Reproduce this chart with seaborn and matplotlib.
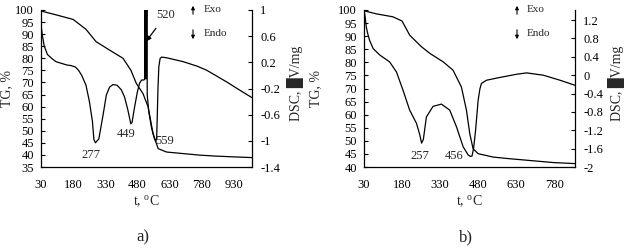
import matplotlib
matplotlib.use("Agg")
import matplotlib.pyplot as plt
import seaborn as sns
import pandas as pd
import numpy as np

sns.set_theme(style="white")
plt.rcParams['font.family'] = ['Liberation Serif', 'DejaVu Serif']
plt.rcParams['mathtext.fontset'] = 'custom'
plt.rcParams['mathtext.rm'] = 'Liberation Serif'

# ---- panel a data ----
tg_a_t = [30, 100, 180, 240, 287, 350, 413, 450, 475, 506, 530, 553, 577, 616, 700, 772, 850, 928, 1015]
tg_a_v = [99.6, 98.0, 96.1, 92.0, 86.9, 83.4, 80.0, 75.0, 69.6, 65.4, 59.9, 48.8, 42.6, 41.2, 40.5, 39.9, 39.5, 39.2, 38.9]

dsc_a_t = [31, 36, 45, 60, 80, 100, 130, 150, 170, 190, 205, 220, 240, 256, 270, 277, 284, 300, 320, 335, 350, 366, 385, 405, 420, 435, 444, 449, 455, 466, 480, 490, 500, 510, 514,
           516, 518, 520, 522, 524, 526, 533, 546, 559, 566, 570, 573, 576, 580, 586, 593, 616, 694, 760, 803, 850, 897, 960, 1015]
dsc_a_v = [0.75, 0.62, 0.45, 0.32, 0.26, 0.21, 0.18, 0.16, 0.15, 0.13, 0.08, 0.0, -0.15, -0.40, -0.70, -0.98, -1.03, -0.97, -0.60, -0.30, -0.18, -0.14, -0.15, -0.22, -0.33, -0.52, -0.66, -0.74, -0.72, -0.50, -0.25, -0.12, -0.07, -0.07, -0.06,
           1.0, -0.05, 1.0, -0.05, 1.0, -0.30, -0.55, -0.80, -0.96, -1.01, -0.95, -0.60, -0.20, 0.13, 0.26, 0.28, 0.27, 0.21, 0.14, 0.08, -0.01, -0.10, -0.23, -0.34]

# ---- panel b data ----
tg_b_t = [30, 80, 144, 180, 210, 256, 290, 342, 381, 414, 434, 447, 460, 480, 539, 600, 671, 776, 862]
tg_b_v = [99.7, 98.5, 97.4, 95.8, 90.4, 86.0, 83.4, 80.2, 77.0, 70.6, 61.7, 52.8, 47.0, 45.1, 43.8, 43.2, 42.6, 41.7, 41.3]

dsc_b_t = [31, 35, 39, 45, 52, 66, 92, 131, 158, 184, 210, 237, 250, 257, 264, 276, 302, 335, 368, 395, 421, 441, 450, 456, 462, 470, 480, 487, 493, 513, 565, 631, 671, 737, 803, 862]
dsc_b_v = [1.40, 1.25, 1.05, 0.90, 0.76, 0.58, 0.44, 0.29, 0.07, -0.33, -0.76, -1.05, -1.30, -1.48, -1.40, -0.91, -0.68, -0.63, -0.76, -1.13, -1.56, -1.74, -1.77, -1.76, -1.60, -1.20, -0.55, -0.30, -0.18, -0.11, -0.05, 0.02, 0.05, 0.0, -0.11, -0.22]

W, H = 627, 250
fig = plt.figure(figsize=(W / 100, H / 100), dpi=100)

def fx(px):
    return px / W

def fy(py):
    return 1 - py / H

FS = 9
LFS = 10
LW = 0.9

def make_panel(left, right, top, bottom, tg_t, tg_v, dsc_t, dsc_v, xlim, xticks, tg_ylim, tg_ticks,
               dsc_ylim, dsc_ticks, dsc_ticklabels):
    ax = fig.add_axes([fx(left), fy(bottom), fx(right) - fx(left), fy(top) - fy(bottom)])
    sns.lineplot(x=tg_t, y=tg_v, ax=ax, color='black', linewidth=LW, sort=False)
    ax2 = ax.twinx()
    sns.lineplot(x=dsc_t, y=dsc_v, ax=ax2, color='black', linewidth=LW, sort=False)
    ax.set_xlim(*xlim)
    ax.set_xticks(xticks)
    ax.set_ylim(*tg_ylim)
    ax.set_yticks(tg_ticks)
    ax2.set_ylim(*dsc_ylim)
    ax2.set_yticks(dsc_ticks)
    ax2.set_yticklabels(dsc_ticklabels)
    for a in (ax, ax2):
        a.spines['top'].set_visible(False)
        for s in a.spines.values():
            s.set_color('black')
            s.set_linewidth(0.9)
        a.tick_params(direction='in', length=3, width=0.8, colors='black', labelsize=FS, pad=5)
        a.set_facecolor('none')
    ax.spines['right'].set_visible(False)
    ax2.spines['left'].set_visible(False)
    ax2.spines['bottom'].set_visible(False)
    ax.tick_params(axis='x', pad=9)
    ax2.tick_params(axis='y', pad=6)
    ax.set_xlabel('t, $^{\\rm o}$C', fontsize=LFS)
    ax.set_ylabel('TG, %', fontsize=LFS)
    ax2.set_ylabel('DSC, \u2588V/mg', fontsize=LFS)
    return ax, ax2

ax_a, ax2_a = make_panel(41, 252, 10, 167, tg_a_t, tg_a_v, dsc_a_t, dsc_a_v,
                         (30, 1015), [30, 180, 330, 480, 630, 780, 930], (35, 100), list(range(35, 101, 5)),
                         (-1.4, 1.0), [-1.4, -1.0, -0.6, -0.2, 0.2, 0.6, 1.0],
                         ['-1.4', '-1', '-0.6', '-0.2', '0.2', '0.6', '1'])
ax_b, ax2_b = make_panel(364, 575, 10, 167, tg_b_t, tg_b_v, dsc_b_t, dsc_b_v,
                         (30, 862), [30, 180, 330, 480, 630, 780], (40, 100), list(range(40, 101, 5)),
                         (-2.0, 1.42), [-2.0, -1.6, -1.2, -0.8, -0.4, 0.0, 0.4, 0.8, 1.2],
                         ['-2', '-1.6', '-1.2', '-0.8', '-0.4', '0', '0.4', '0.8', '1.2'])

ax_a.yaxis.set_label_coords(-0.13, 0.5)
ax2_a.yaxis.set_label_coords(1.165, 0.53)
ax_b.yaxis.set_label_coords(-0.2, 0.5)
ax2_b.yaxis.set_label_coords(1.155, 0.53)
ax_a.xaxis.set_label_coords(0.5, -0.17)
ax_b.xaxis.set_label_coords(0.5, -0.17)

# peak labels
ax2_a.text(265, -1.12, '277', fontsize=FS, ha='center', va='top')
ax2_a.text(429, -0.80, '449', fontsize=FS, ha='center', va='top')
ax2_a.text(562, -1.01, '559', fontsize=FS, ha='left', va='center')
ax2_a.annotate('520', xy=(521, 0.52), xytext=(614, 0.93), fontsize=FS, ha='center', va='center',
               arrowprops=dict(arrowstyle='-|>', color='black', lw=0.9, mutation_scale=7, shrinkA=4, shrinkB=0))
ax2_b.text(250, -1.62, '257', fontsize=FS, ha='center', va='top')
ax2_b.text(384, -1.62, '456', fontsize=FS, ha='center', va='top')

# Exo / Endo markers
for xa, xt in ((193, 204), (517, 527)):
    fig.add_artist(matplotlib.patches.FancyArrowPatch((fx(xa), fy(17)), (fx(xa), fy(3)),
                   transform=fig.transFigure, arrowstyle='-|>', mutation_scale=5, color='black', lw=0.8))
    fig.add_artist(matplotlib.patches.FancyArrowPatch((fx(xa), fy(27)), (fx(xa), fy(42)),
                   transform=fig.transFigure, arrowstyle='-|>', mutation_scale=5, color='black', lw=0.8))
    fig.text(fx(xt), fy(9), 'Exo', fontsize=FS - 1, ha='left', va='center')
    fig.text(fx(xt), fy(33), 'Endo', fontsize=FS - 1, ha='left', va='center')

fig.text(fx(143), fy(237), 'a)', fontsize=12, ha='center', va='center')
fig.text(fx(466), fy(237), 'b)', fontsize=12, ha='center', va='center')

fig.savefig('out.png', dpi=100, facecolor='white')
